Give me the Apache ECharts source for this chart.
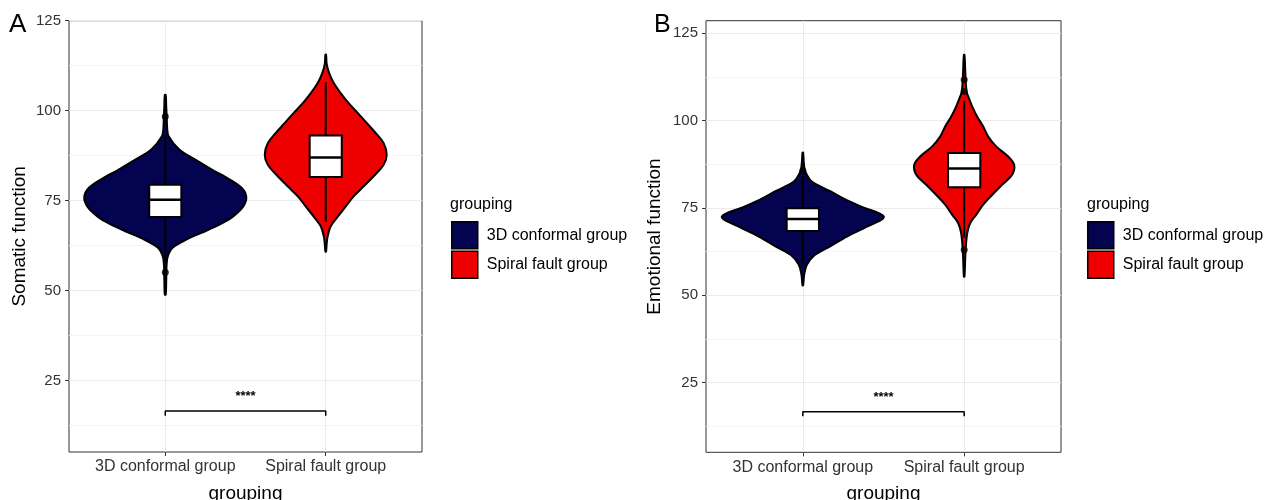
<!DOCTYPE html>
<html>
<head>
<meta charset="utf-8">
<script src="https://cdn.jsdelivr.net/npm/echarts@6/dist/echarts.min.js"></script>
<style>
html,body{margin:0;padding:0;background:#fff;}
#chart{width:1277px;height:500px;}
</style>
</head>
<body>
<div id="chart"></div>
<script>
// ---------- data ----------
const categories = ['3D conformal group', 'Spiral fault group'];
const yTicks = [25, 50, 75, 100, 125];
const yMinorTicks = [12.5, 37.5, 62.5, 87.5, 112.5];
const groupColors = ['#03034f', '#ee0000'];

// Panel A (Somatic function) violin outlines: y values and half-widths (x units)
const somatic3DY = [104.4, 101, 98.4, 95, 92.9, 89.2, 86.4, 83.6, 80.8, 78.1, 75.7, 73.4, 71.6, 69.7, 66.9, 64.2, 61.9, 60, 57.7, 53, 48.9];
const somatic3DW = [0.003, 0.006, 0.009, 0.012, 0.021, 0.087, 0.187, 0.293, 0.405, 0.486, 0.505, 0.486, 0.449, 0.393, 0.268, 0.131, 0.044, 0.019, 0.009, 0.006, 0.003];
const somaticSpiralY = [115.6, 113, 110.5, 107.7, 104.9, 102.1, 99.4, 96.6, 93.8, 91.0, 87.8, 85.0, 81.8, 79.0, 76.2, 73.4, 70.6, 67.9, 65.1, 63, 60.9];
const somaticSpiralW = [0.002, 0.006, 0.021, 0.050, 0.093, 0.143, 0.199, 0.255, 0.312, 0.361, 0.380, 0.361, 0.299, 0.237, 0.174, 0.125, 0.075, 0.031, 0.012, 0.006, 0.002];

// Panel B (Emotional function) violin outlines
const emotional3DY = [90.8, 88, 85.9, 84.5, 82.5, 79.7, 77.8, 75.4, 72.5, 69.6, 66.8, 63.9, 61.5, 58.7, 56, 52.8];
const emotional3DW = [0.002, 0.006, 0.012, 0.025, 0.056, 0.173, 0.248, 0.359, 0.502, 0.397, 0.273, 0.167, 0.074, 0.025, 0.009, 0.002];
const emotionalSpiralY = [118.8, 115, 111.7, 108.3, 106.9, 104.0, 101.1, 98.3, 95.4, 92.6, 89.7, 87.3, 84.5, 81.6, 78.7, 75.9, 73.0, 70.6, 67.8, 63, 55.3];
const emotionalSpiralW = [0.002, 0.006, 0.009, 0.015, 0.025, 0.050, 0.081, 0.118, 0.149, 0.198, 0.273, 0.310, 0.297, 0.235, 0.173, 0.118, 0.074, 0.037, 0.019, 0.009, 0.002];

// Box stats: [lower whisker, Q1, median, Q3, upper whisker]
const somatic3DBox = [57.7, 70.5, 75.3, 79.4, 92.9];
const somaticSpiralBox = [69.1, 81.6, 87.0, 93.1, 107.9];
const emotional3DBox = [58.7, 68.4, 71.8, 74.9, 84.5];
const emotionalSpiralBox = [66.5, 80.9, 86.3, 90.7, 105.7];

// Outliers
const somatic3DOut = [98.4, 55.1];
const somaticSpiralOut = [];
const emotional3DOut = [85.6];
const emotionalSpiralOut = [111.7, 108.3, 63.0];

// Significance bracket
const bracketLow = 15.3, bracketHigh = 16.6, sigLabelY = 20.7;
const sigLabel = '****';

// ---------- layout ----------
const FONT = 'Liberation Sans, Arial, Helvetica, sans-serif';
const BOX_HALF = 0.1;

function violinSeries(name, color, gi, center, ys, ws, box) {
  return {
    type: 'custom', name: name, xAxisIndex: gi, yAxisIndex: gi, z: 3,
    itemStyle: { color: color },
    data: [[center, box[0], box[1], box[2], box[3], box[4]]],
    encode: { x: 0, y: [1, 2, 3, 4, 5] },
    renderItem: function (params, api) {
      const c = api.value(0);
      const pts = [];
      for (let i = 0; i < ys.length; i++) pts.push(api.coord([c + ws[i], ys[i]]));
      for (let i = ys.length - 1; i >= 0; i--) pts.push(api.coord([c - ws[i], ys[i]]));
      const wl = api.coord([c, api.value(1)]);
      const q1 = api.coord([c - BOX_HALF, api.value(2)]);
      const md = api.coord([c - BOX_HALF, api.value(3)]);
      const q3 = api.coord([c + BOX_HALF, api.value(4)]);
      const wh = api.coord([c, api.value(5)]);
      return {
        type: 'group',
        children: [
          { type: 'polygon', shape: { points: pts, smooth: 0.35 },
            style: { fill: color, stroke: '#000', lineWidth: 2 } },
          { type: 'line', shape: { x1: wl[0], y1: wl[1], x2: wh[0], y2: wh[1] },
            style: { stroke: '#000', lineWidth: 2 } },
          { type: 'rect', shape: { x: q1[0], y: q3[1], width: q3[0] - q1[0], height: q1[1] - q3[1] },
            style: { fill: '#fff', stroke: '#000', lineWidth: 2 } },
          { type: 'line', shape: { x1: md[0], y1: md[1], x2: q3[0], y2: md[1] },
            style: { stroke: '#000', lineWidth: 2.5 } }
        ]
      };
    }
  };
}

function outlierSeries(gi, center, vals) {
  return {
    type: 'scatter', xAxisIndex: gi, yAxisIndex: gi, z: 4, silent: true,
    symbolSize: 7, itemStyle: { color: '#000' },
    data: vals.map(v => [center, v])
  };
}

function bracketSeries(gi) {
  return {
    type: 'line', xAxisIndex: gi, yAxisIndex: gi, z: 1, silent: true,
    symbol: 'none', lineStyle: { color: '#000', width: 1.5 },
    data: [[1, bracketLow], [1, bracketHigh], [2, bracketHigh], [2, bracketLow]],
    markLine: {
      silent: true, symbol: 'none', label: { show: false }, z: 0,
      lineStyle: { color: '#f4f4f4', width: 1, type: 'solid' },
      data: yMinorTicks.map(v => ({ yAxis: v }))
    }
  };
}

function sigSeries(gi) {
  return {
    type: 'custom', xAxisIndex: gi, yAxisIndex: gi, z: 4, silent: true,
    data: [[1.5, sigLabelY]],
    renderItem: function (params, api) {
      const p = api.coord([api.value(0), api.value(1)]);
      return { type: 'text', x: p[0], y: p[1],
        style: { text: sigLabel, fill: '#000', font: 'bold 13px ' + FONT, align: 'center', verticalAlign: 'middle' } };
    }
  };
}

function xAxisCfg(gi) {
  return {
    type: 'value', gridIndex: gi, min: 0.4, max: 2.6,
    name: 'grouping', nameLocation: 'middle', nameGap: 32,
    nameTextStyle: { fontSize: 19, color: '#000', fontFamily: FONT },
    axisLine: { show: false },
    axisTick: { show: true, length: 4, customValues: [1, 2], lineStyle: { color: '#333' } },
    axisLabel: { customValues: [1, 2], margin: 7, fontSize: 16, color: '#333', fontFamily: FONT,
      formatter: v => categories[Math.round(v) - 1] },
    splitLine: { show: true, lineStyle: { color: '#ebebeb', width: 1 } }
  };
}

function yAxisCfg(gi, min, max, title, gap) {
  return {
    type: 'value', gridIndex: gi, min: min, max: max,
    name: title, nameLocation: 'middle', nameGap: gap,
    nameTextStyle: { fontSize: 19, color: '#000', fontFamily: FONT },
    axisLine: { show: false },
    axisTick: { show: true, length: 4, customValues: yTicks, lineStyle: { color: '#333' } },
    axisLabel: { customValues: yTicks, margin: 8, fontSize: 15, color: '#333', fontFamily: FONT },
    splitLine: { show: true, lineStyle: { color: '#ebebeb', width: 1 } }
  };
}

function legendCfg(left) {
  return {
    orient: 'vertical', left: left, top: 221, icon: 'rect', padding: 0,
    itemWidth: 26, itemHeight: 27, itemGap: 1,
    data: categories.slice(),
    selectedMode: false,
    itemStyle: { borderColor: '#000', borderWidth: 1.5 },
    textStyle: { fontSize: 16, color: '#000', fontFamily: FONT, padding: [0, 0, 0, 4] }
  };
}

const option = {
  animation: false,
  backgroundColor: '#fff',
  textStyle: { fontFamily: FONT },
  grid: [
    { left: 69, top: 20.7, width: 353, height: 431.3, outerBoundsMode: 'none', containLabel: false,
      show: true, borderColor: '#333', borderWidth: 1, backgroundColor: 'transparent' },
    { left: 706, top: 20.7, width: 355, height: 431.6, outerBoundsMode: 'none', containLabel: false,
      show: true, borderColor: '#333', borderWidth: 1, backgroundColor: 'transparent' }
  ],
  xAxis: [xAxisCfg(0), xAxisCfg(1)],
  yAxis: [
    yAxisCfg(0, 5.2, 125, 'Somatic function', 40),
    yAxisCfg(1, 5.0, 128.6, 'Emotional function', 42)
  ],
  legend: [legendCfg(451), legendCfg(1087)],
  graphic: [
    { type: 'text', left: 9, top: 12, style: { text: 'A', font: '26px ' + FONT, fill: '#000' } },
    { type: 'text', left: 654, top: 13, style: { text: 'B', font: '25px ' + FONT, fill: '#000' } },
    { type: 'text', left: 450, top: 197, style: { text: 'grouping', font: '16px ' + FONT, fill: '#000' } },
    { type: 'text', left: 1087, top: 197, style: { text: 'grouping', font: '16px ' + FONT, fill: '#000' } }
  ],
  series: [
    bracketSeries(0),
    violinSeries(categories[0], groupColors[0], 0, 1, somatic3DY, somatic3DW, somatic3DBox),
    violinSeries(categories[1], groupColors[1], 0, 2, somaticSpiralY, somaticSpiralW, somaticSpiralBox),
    outlierSeries(0, 1, somatic3DOut),
    outlierSeries(0, 2, somaticSpiralOut),
    sigSeries(0),
    bracketSeries(1),
    violinSeries(categories[0], groupColors[0], 1, 1, emotional3DY, emotional3DW, emotional3DBox),
    violinSeries(categories[1], groupColors[1], 1, 2, emotionalSpiralY, emotionalSpiralW, emotionalSpiralBox),
    outlierSeries(1, 1, emotional3DOut),
    outlierSeries(1, 2, emotionalSpiralOut),
    sigSeries(1)
  ]
};

const chart = echarts.init(document.getElementById('chart'), null, { renderer: 'canvas' });
chart.setOption(option);
</script>
</body>
</html>
